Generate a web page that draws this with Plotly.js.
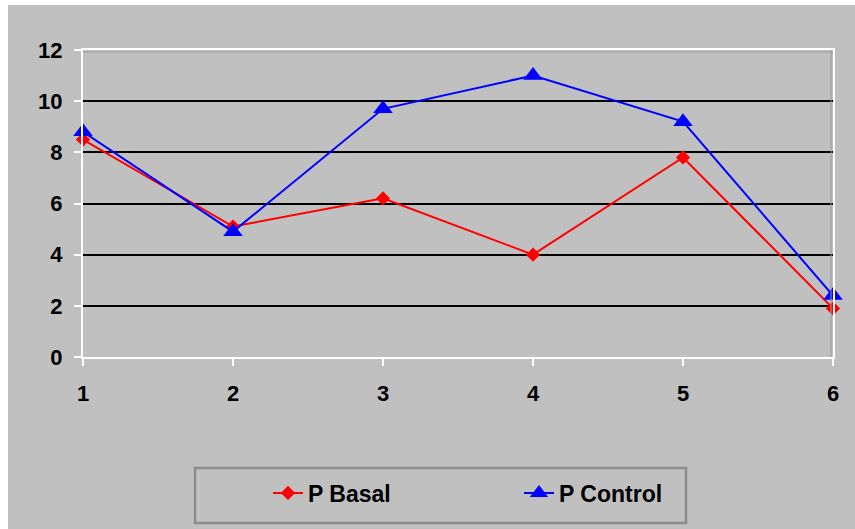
<!DOCTYPE html>
<html>
<head>
<meta charset="utf-8">
<script src="https://cdn.plot.ly/plotly-3.0.1.min.js"></script>
<style>
  html, body { margin: 0; padding: 0; background: #ffffff; }
  #chart { position: absolute; left: 8px; top: 5px; width: 847px; height: 524px; }
</style>
</head>
<body>
<div id="chart"></div>
<script>
// ---- data ----
var categories = [1, 2, 3, 4, 5, 6];
var pBasal   = [8.5, 5.1, 6.2, 4.0, 7.8, 1.9];
var pControl = [8.8, 4.9, 9.7, 11.0, 9.2, 2.4];
var seriesNames = ["P Basal", "P Control"];
var yTicks = [0, 2, 4, 6, 8, 10, 12];

var FONT = "Liberation Sans, Arial, sans-serif";
var BG = "#c0c0c0";

var traces = [
  {
    x: categories, y: pBasal, name: seriesNames[0], type: "scatter", mode: "lines+markers",
    line: {color: "#ff0000", width: 2},
    marker: {symbol: "diamond", size: 11, color: "#ff0000"},
    cliponaxis: false
  },
  {
    x: categories, y: pControl, name: seriesNames[1], type: "scatter", mode: "lines+markers",
    line: {color: "#0000ff", width: 2},
    marker: {symbol: "triangle-up", size: 17, color: "#0000ff"},
    cliponaxis: false
  }
];

var layout = {
  width: 847, height: 524,
  margin: {l: 75, r: 22, t: 45, b: 172},
  paper_bgcolor: BG, plot_bgcolor: BG,
  font: {family: FONT, size: 22, color: "#000000", weight: "bold"},
  showlegend: true,
  xaxis: {
    range: [1, 6], tickvals: categories, ticktext: categories.map(String),
    showgrid: false, zeroline: false,
    showline: true, linecolor: "#ffffff", linewidth: 2, mirror: true,
    ticks: "outside", ticklen: 7, tickwidth: 2, tickcolor: "#ffffff",
    ticklabelstandoff: 9,
    tickfont: {family: FONT, size: 22, color: "#000000", weight: "bold"}
  },
  yaxis: {
    range: [0, 12], tickvals: yTicks,
    showgrid: true, gridcolor: "#000000", gridwidth: 2, zeroline: false,
    showline: true, linecolor: "#ffffff", linewidth: 2, mirror: true,
    ticks: "outside", ticklen: 7, tickwidth: 2, tickcolor: "#ffffff",
    ticklabelstandoff: 7,
    tickfont: {family: FONT, size: 22, color: "#000000", weight: "bold"}
  },
  legend: {
    orientation: "h",
    x: (268 - 83) / 750, xanchor: "left",
    y: (357 - 493) / 307, yanchor: "middle",
    bgcolor: "rgba(0,0,0,0)", borderwidth: 0,
    entrywidth: 206, entrywidthmode: "pixels",
    font: {family: FONT, size: 23, color: "#000000", weight: "bold"}
  },
  shapes: [
    {type: "rect", xref: "paper", yref: "paper",
     x0: (195 - 83) / 750, x1: (686 - 83) / 750,
     y0: (357 - 523) / 307, y1: (357 - 468) / 307,
     line: {color: "#8c8c8c", width: 2.5}, fillcolor: "rgba(0,0,0,0)"},
    {type: "line", xref: "paper", yref: "paper", ysizemode: "pixel", yanchor: 1,
     x0: 0, x1: 1, y0: -2, y1: -2, line: {color: "#9a9a9a", width: 1}},
    {type: "line", xref: "paper", yref: "paper", xsizemode: "pixel", xanchor: 1,
     x0: -2, x1: -2, y0: 0, y1: 1, line: {color: "#9a9a9a", width: 1}}
  ]
};

Plotly.newPlot("chart", traces, layout, {displayModeBar: false, staticPlot: true});
</script>
</body>
</html>
